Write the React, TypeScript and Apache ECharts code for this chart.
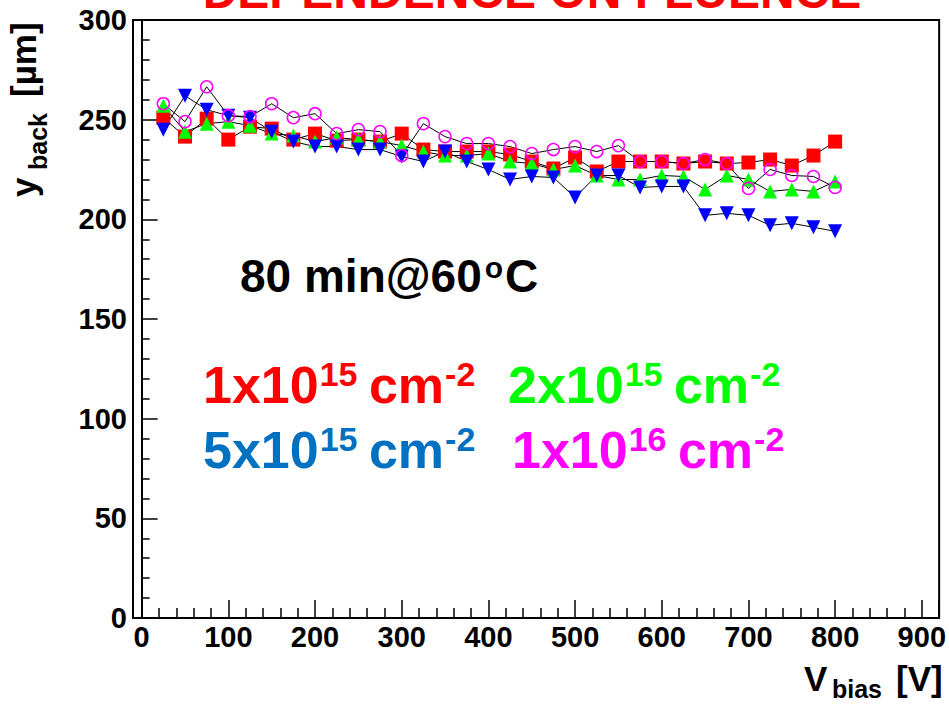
import React, { useEffect, useRef } from "react";
import * as echarts from "echarts";

// ---- data ----
const voltages = [25, 50, 75, 100, 125, 150, 175, 200, 225, 250, 275, 300, 325, 350, 375, 400, 425, 450, 475, 500, 525, 550, 575, 600, 625, 650, 675, 700, 725, 750, 775, 800];
const fluence1e15 = [251, 241.5, 250.5, 240, 246.5, 245.5, 240, 243, 239.5, 240, 239, 243, 235, 234, 234, 234, 232.5, 229, 225.5, 231, 224, 229, 229, 229, 228, 229, 228, 228.5, 230, 227, 232, 239];
const fluence2e15 = [257, 244, 248, 249, 247, 243, 242, 239, 241, 240, 239, 237, 234, 232, 232, 233, 229, 228, 225, 227, 222, 220, 220, 222, 221.5, 215, 222, 220, 214, 215, 214, 219];
const fluence5e15 = [245, 262, 255, 252, 251, 244, 239, 236.5, 236.5, 235, 235, 231.5, 229, 234, 229, 225, 220, 221.5, 221, 211, 222, 222, 216, 216.5, 216.5, 202, 203, 202, 197, 198, 196, 194];
const fluence1e16 = [258, 249, 266.5, 252, 251.5, 258, 251, 253, 243, 245, 244, 232, 248, 241.5, 238, 238, 236.5, 233, 235, 236.5, 234, 237, 229, 229, 228, 230, 228, 215.5, 225, 222, 221.5, 216];

const titleText = "DEPENDENCE ON FLUENCE";
const annealText = ["80 min@60", "o", "C"];
const legendLabels = [
  { base: "1x10", exp: "15", color: "#ff0000" },
  { base: "2x10", exp: "15", color: "#00ff00" },
  { base: "5x10", exp: "15", color: "#0070c0" },
  { base: "1x10", exp: "16", color: "#ff00ff" },
];

const FONT = '"Liberation Sans", Arial, Helvetica, sans-serif';

let measureCtx: CanvasRenderingContext2D | null = null;
function measure(text: string, size: number): number {
  if (!measureCtx) measureCtx = document.createElement("canvas").getContext("2d");
  if (!measureCtx) return text.length * size * 0.6;
  measureCtx.font = `bold ${size}px ${FONT}`;
  return measureCtx.measureText(text).width;
}

type Seg = { t: string; size: number; rise?: number; gap?: number };

// text pieces laid out left to right on a common baseline
function textRun(segs: Seg[], x0: number, baseline: number, color: string): any[] {
  const out: any[] = [];
  let x = x0;
  for (const s of segs) {
    x += s.gap || 0;
    const b = baseline - (s.rise || 0);
    out.push({
      type: "text",
      x,
      y: b - 0.3465 * s.size,
      z: 100,
      style: {
        text: s.t,
        fill: color,
        fontSize: s.size,
        fontWeight: "bold",
        fontFamily: FONT,
        align: "left",
        verticalAlign: "middle",
      },
    });
    x += measure(s.t, s.size);
  }
  return out;
}

function legendRun(i: number, x0: number, baseline: number): any[] {
  const L = legendLabels[i];
  return textRun(
    [
      { t: L.base, size: 52 },
      { t: L.exp, size: 34, rise: 17, gap: 1 },
      { t: " cm", size: 52, gap: -3 },
      { t: "-2", size: 34, rise: 17, gap: 1 },
    ],
    x0,
    baseline,
    L.color
  );
}

export default function App() {
  const ref = useRef<HTMLDivElement>(null);

  useEffect(() => {
    if (!ref.current) return;
    const chart = echarts.init(ref.current, undefined, { renderer: "svg" });

    const mk = (vals: number[]) => voltages.map((v, i) => [v, vals[i]]);
    const lineStyle = { color: "#000", width: 1 };

    const labelStyle = {
      color: "#000",
      fontSize: 29,
      fontWeight: "bold" as const,
      fontFamily: FONT,
    };

    const yTitle = {
      type: "group",
      x: 36,
      y: 197,
      rotation: Math.PI / 2,
      children: [
        ...textRun([{ t: "y", size: 35 }], 0, 0, "#000"),
        ...textRun([{ t: "back", size: 25 }], 27, 11, "#000"),
        ...textRun([{ t: "[\u00b5m]", size: 35 }], 100, 0, "#000"),
      ],
    };

    const graphics: any[] = [
      {
        type: "text",
        x: 532,
        y: 8 - 0.3465 * 48,
        z: 100,
        style: {
          text: titleText,
          fill: "#ff0000",
          fontSize: 48,
          fontWeight: "bold",
          fontFamily: FONT,
          align: "center",
          verticalAlign: "middle",
        },
      },
      yTitle,
      ...textRun([{ t: "V", size: 35 }], 804, 691, "#000"),
      ...textRun([{ t: "bias", size: 25 }], 832, 698, "#000"),
      ...textRun([{ t: "[V]", size: 35 }], 896, 691, "#000"),
      ...textRun(
        [
          { t: annealText[0], size: 46 },
          { t: annealText[1], size: 30, rise: 14, gap: 3 },
          { t: annealText[2], size: 46, gap: 2 },
        ],
        240,
        292,
        "#000"
      ),
      ...legendRun(0, 203, 403),
      ...legendRun(1, 508, 403),
      ...legendRun(2, 203, 468),
      ...legendRun(3, 512, 468),
    ];

    chart.setOption({
      animation: false,
      backgroundColor: "#fff",
      grid: {
        left: 133,
        top: 20,
        width: 807,
        height: 598,
        show: true,
        borderColor: "#000",
        borderWidth: 2,
        backgroundColor: "transparent",
      },
      xAxis: {
        type: "value",
        min: -10,
        max: 920,
        splitNumber: 9,
        minInterval: 100,
        maxInterval: 100,
        axisLine: { lineStyle: { color: "#000", width: 2 } },
        axisTick: { inside: true, length: 18, lineStyle: { color: "#000", width: 1.5 } },
        minorTick: { show: true, splitNumber: 5, length: 10, lineStyle: { color: "#000", width: 1.5 } },
        splitLine: { show: false },
        axisLabel: { ...labelStyle, margin: 4, showMinLabel: false, showMaxLabel: false },
      },
      yAxis: {
        type: "value",
        min: 0,
        max: 300,
        interval: 50,
        axisLine: { lineStyle: { color: "#000", width: 2 } },
        axisTick: { inside: true, length: 16, lineStyle: { color: "#000", width: 1.5 } },
        minorTick: { show: true, splitNumber: 5, length: 8, lineStyle: { color: "#000", width: 1.5 } },
        splitLine: { show: false },
        axisLabel: { ...labelStyle, margin: 6 },
      },
      series: [
        {
          name: "1x10^15",
          type: "line",
          data: mk(fluence1e15),
          symbol: "rect",
          symbolSize: 14,
          lineStyle,
          itemStyle: { color: "#ff0000" },
        },
        {
          name: "2x10^15",
          type: "line",
          data: mk(fluence2e15),
          symbol: "triangle",
          symbolSize: 14,
          lineStyle,
          itemStyle: { color: "#00ff00" },
        },
        {
          name: "5x10^15",
          type: "line",
          data: mk(fluence5e15),
          symbol: "triangle",
          symbolRotate: 180,
          symbolSize: 14,
          lineStyle,
          itemStyle: { color: "#0000ff" },
        },
        {
          name: "1x10^16",
          type: "line",
          data: mk(fluence1e16),
          symbol: "circle",
          symbolSize: 12,
          lineStyle,
          itemStyle: { color: "transparent", borderColor: "#ff00ff", borderWidth: 1.5 },
        },
      ],
      graphic: graphics,
    });

    return () => chart.dispose();
  }, []);

  return (
    <div
      ref={ref}
      style={{ position: "fixed", left: 0, top: 0, width: 949, height: 704 }}
    />
  );
}
